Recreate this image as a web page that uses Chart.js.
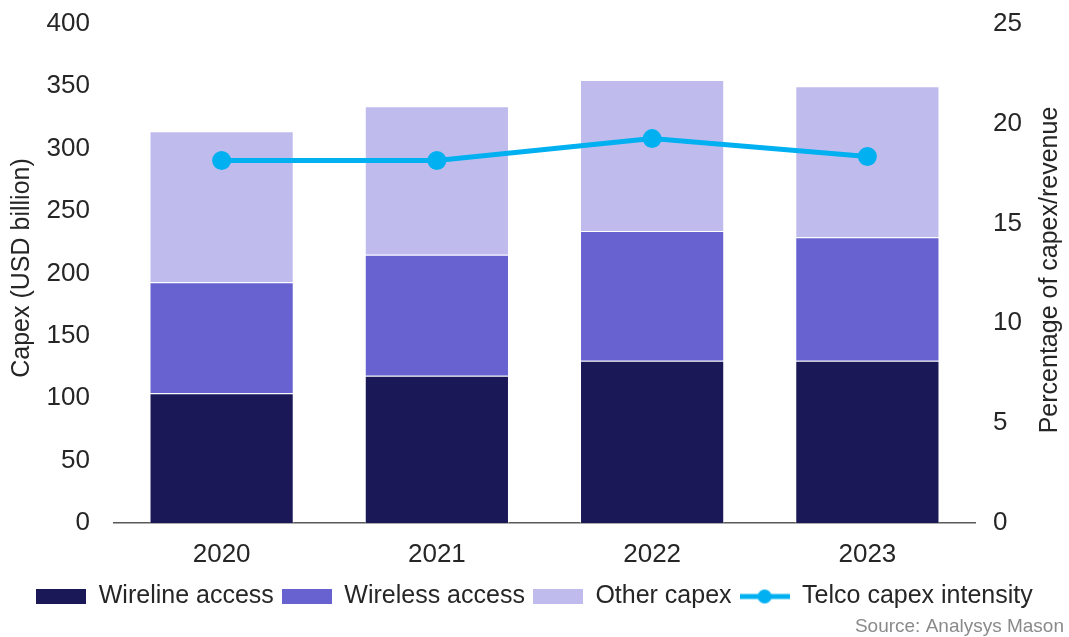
<!DOCTYPE html>
<html>
<head>
<meta charset="utf-8">
<script src="https://cdn.jsdelivr.net/npm/chart.js@4"></script>
<style>
  html, body { margin: 0; padding: 0; background: #fff; }
  #wrap { width: 1069px; height: 637px; }
</style>
</head>
<body>
<div id="wrap"><canvas id="capexChart"></canvas></div>
<script>
var years = ['2020', '2021', '2022', '2023'];
var wireline = [104, 118, 130, 130];
var wireless = [89, 97, 104, 99];
var otherCapex = [121, 119, 121, 121];
var intensity = [18.15, 18.15, 19.25, 18.35];

var FONT = "'Liberation Sans', Arial, sans-serif";
var TEXT = '#262626';

function boxImg(color) {
  var c = document.createElement('canvas');
  c.width = 50; c.height = 15;
  var g = c.getContext('2d');
  g.fillStyle = color;
  g.fillRect(0, 0, 50, 15);
  return c;
}
function lineImg(color) {
  var c = document.createElement('canvas');
  c.width = 50; c.height = 16;
  var g = c.getContext('2d');
  g.strokeStyle = color; g.lineWidth = 5;
  g.beginPath(); g.moveTo(0, 8); g.lineTo(50, 8); g.stroke();
  g.fillStyle = color;
  g.beginPath(); g.arc(25, 8, 7, 0, Math.PI * 2); g.fill();
  return c;
}

// axis titles and source note drawn by hand so both titles read bottom-to-top
var extrasPlugin = {
  id: 'extras',
  afterDraw: function (chart) {
    var ctx = chart.ctx;
    ctx.save();
    ctx.fillStyle = TEXT;
    ctx.font = '25px ' + FONT;
    ctx.textAlign = 'center';
    ctx.textBaseline = 'middle';
    ctx.translate(22, 268);
    ctx.rotate(-Math.PI / 2);
    ctx.fillText('Capex (USD billion)', 0, 0);
    ctx.restore();

    ctx.save();
    ctx.fillStyle = TEXT;
    ctx.font = '25px ' + FONT;
    ctx.textAlign = 'center';
    ctx.textBaseline = 'middle';
    ctx.translate(1050, 270);
    ctx.rotate(-Math.PI / 2);
    ctx.fillText('Percentage of capex/revenue', 0, 0);
    ctx.restore();

    ctx.save();
    ctx.font = '19px ' + FONT;
    ctx.fillStyle = '#8a8a8a';
    ctx.textAlign = 'right';
    ctx.textBaseline = 'middle';
    ctx.fillText('Source: Analysys Mason', 1064, 627);
    ctx.restore();
  }
};

var ctx = document.getElementById('capexChart').getContext('2d');
var capexChart = new Chart(ctx, {
  data: {
    labels: years,
    datasets: [
      {
        type: 'line',
        label: 'Telco capex intensity',
        data: intensity,
        yAxisID: 'yRight',
        borderColor: '#00b0f0',
        backgroundColor: '#00b0f0',
        borderWidth: 5,
        pointRadius: 7,
        pointHoverRadius: 7,
        tension: 0,
        order: 0,
        legendImg: lineImg('#00b0f0')
      },
      {
        type: 'bar',
        label: 'Wireline access',
        data: wireline,
        backgroundColor: '#1b1858',
        borderColor: 'rgba(255,255,255,0.5)',
        borderWidth: 1,
        order: 1,
        legendImg: boxImg('#1b1858')
      },
      {
        type: 'bar',
        label: 'Wireless access',
        data: wireless,
        backgroundColor: '#6762d0',
        borderColor: 'rgba(255,255,255,0.5)',
        borderWidth: 1,
        order: 1,
        legendImg: boxImg('#6762d0')
      },
      {
        type: 'bar',
        label: 'Other capex',
        data: otherCapex,
        backgroundColor: '#bfbced',
        borderColor: 'rgba(255,255,255,0.6)',
        borderWidth: 1,
        order: 1,
        legendImg: boxImg('#bfbced')
      }
    ]
  },
  options: {
    responsive: true,
    maintainAspectRatio: false,
    animation: false,
    layout: { padding: { top: 0, bottom: 18, left: 0, right: 0 } },
    datasets: { bar: { categoryPercentage: 0.67, barPercentage: 1 } },
    plugins: {
      tooltip: { enabled: false },
      legend: {
        position: 'bottom',
        labels: {
          usePointStyle: true,
          pointStyleWidth: 50,
          padding: 8,
          color: TEXT,
          font: { family: FONT, size: 25 },
          generateLabels: function (chart) {
            var order = [1, 2, 3, 0];
            return order.map(function (i) {
              var ds = chart.data.datasets[i];
              return {
                text: ds.label,
                pointStyle: ds.legendImg,
                fillStyle: ds.backgroundColor,
                strokeStyle: ds.backgroundColor,
                lineWidth: 0,
                hidden: false,
                datasetIndex: i,
                fontColor: TEXT
              };
            });
          }
        }
      }
    },
    scales: {
      x: {
        stacked: true,
        grid: { display: false },
        border: { display: true, color: '#595959', width: 1.5 },
        ticks: { color: TEXT, font: { family: FONT, size: 26 }, padding: 8 },
        afterFit: function (s) { s.height = 53; }
      },
      y: {
        stacked: true,
        position: 'left',
        min: 0,
        max: 400,
        grid: { display: false },
        border: { display: false },
        ticks: { stepSize: 50, color: TEXT, font: { family: FONT, size: 26, lineHeight: 0.6 }, padding: 16 },
        afterFit: function (s) { s.width = 114; }
      },
      yRight: {
        position: 'right',
        min: 0,
        max: 25,
        grid: { display: false },
        border: { display: false },
        ticks: { stepSize: 5, color: TEXT, font: { family: FONT, size: 26, lineHeight: 0.6 }, padding: 10 },
        afterFit: function (s) { s.width = 94; }
      }
    }
  },
  plugins: [extrasPlugin]
});
</script>
</body>
</html>
